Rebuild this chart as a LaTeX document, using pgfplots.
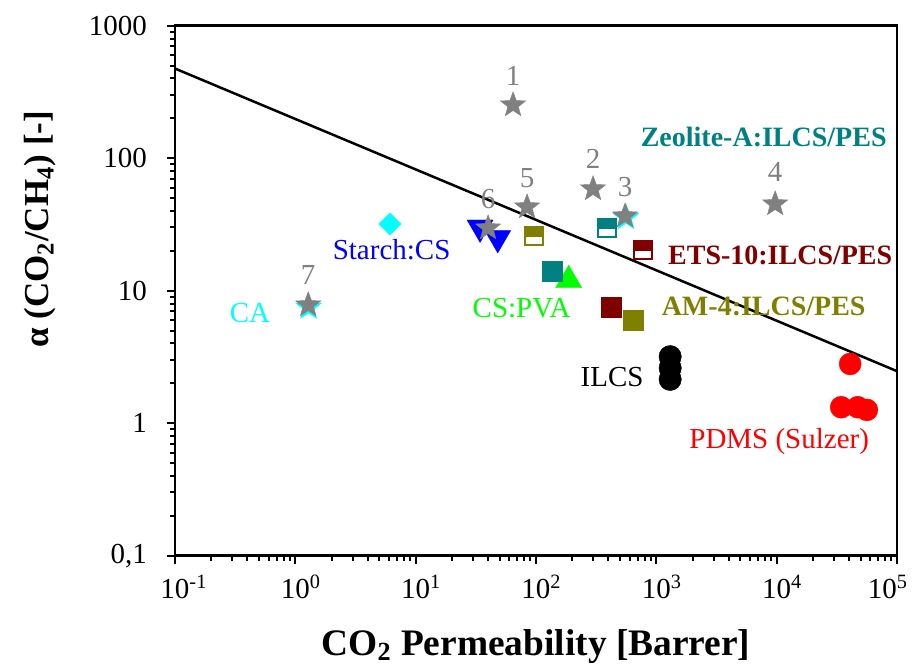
\documentclass[border=0pt]{standalone}
\usepackage{fontspec}
\setmainfont{Liberation Serif}
\usepackage{pgfplots}
\pgfplotsset{compat=1.18}

\definecolor{cteal}{RGB}{0,128,128}
\definecolor{cmaroon}{RGB}{128,0,0}
\definecolor{colive}{RGB}{128,128,0}
\definecolor{ccyan}{RGB}{0,255,255}
\definecolor{cblue}{RGB}{0,0,255}
\definecolor{cgreen}{RGB}{0,255,0}
\definecolor{cgray}{RGB}{128,128,128}
\definecolor{cred}{RGB}{255,0,0}

\pgfdeclareplotmark{fstar}{%
  \pgfpathmoveto{\pgfpointpolar{90}{\pgfplotmarksize}}%
  \pgfpathlineto{\pgfpointpolar{126}{0.42\pgfplotmarksize}}%
  \pgfpathlineto{\pgfpointpolar{162}{\pgfplotmarksize}}%
  \pgfpathlineto{\pgfpointpolar{198}{0.42\pgfplotmarksize}}%
  \pgfpathlineto{\pgfpointpolar{234}{\pgfplotmarksize}}%
  \pgfpathlineto{\pgfpointpolar{270}{0.42\pgfplotmarksize}}%
  \pgfpathlineto{\pgfpointpolar{306}{\pgfplotmarksize}}%
  \pgfpathlineto{\pgfpointpolar{342}{0.42\pgfplotmarksize}}%
  \pgfpathlineto{\pgfpointpolar{18}{\pgfplotmarksize}}%
  \pgfpathlineto{\pgfpointpolar{54}{0.42\pgfplotmarksize}}%
  \pgfpathclose
  \pgfusepathqfillstroke
}
\pgfdeclareplotmark{halfsq}{%
  \pgfpathrectangle{\pgfpoint{-\pgfplotmarksize}{-0.1\pgfplotmarksize}}{\pgfpoint{2\pgfplotmarksize}{1.1\pgfplotmarksize}}%
  \pgfusepathqfill
  \pgfpathrectangle{\pgfpoint{-\pgfplotmarksize}{-\pgfplotmarksize}}{\pgfpoint{2\pgfplotmarksize}{2\pgfplotmarksize}}%
  \pgfusepathqstroke
}

\newcommand{\lblfont}{\fontsize{14.5}{16}\selectfont}
\newcommand{\bldfont}{\bfseries\fontsize{14}{16}\selectfont}

\begin{document}
\begin{tikzpicture}
\useasboundingbox (-87.5pt,-56.15pt) rectangle (371pt,277.85pt);
\begin{axis}[
  at={(0,0)}, anchor=south west,
  scale only axis, width=361pt, height=265pt,
  xmode=log, ymode=log,
  xmin=0.1, xmax=1e5, ymin=0.1, ymax=1000,
  xtick={0.1,1,10,100,1000,10000,100000},
  xticklabels={10\rlap{\textsuperscript{-1}},10\rlap{\textsuperscript{0}},10\rlap{\textsuperscript{1}},10\rlap{\textsuperscript{2}},10\rlap{\textsuperscript{3}},10\rlap{\textsuperscript{4}},\llap{10}\rlap{\textsuperscript{5}}},
  minor xtick={0.2,0.3,0.4,0.5,0.6,0.7,0.8,0.9,2,3,4,5,6,7,8,9,20,30,40,50,60,70,80,90,200,300,400,500,600,700,800,900,2000,3000,4000,5000,6000,7000,8000,9000,20000,30000,40000,50000,60000,70000,80000,90000},
  ytick={0.1,1,10,100,1000},
  yticklabels={{0,1},1,10,100,1000},
  minor ytick={0.2,0.3,0.4,0.5,0.6,0.7,0.8,0.9,2,3,4,5,6,7,8,9,20,30,40,50,60,70,80,90,200,300,400,500,600,700,800,900},
  tick pos=left,
  tick align=outside,
  major tick length=4pt, minor tick length=2.5pt,
  every tick/.style={black, line width=1pt},
  axis line style={line width=1.2pt},
  tick label style={font=\lblfont},
  xticklabel style={yshift=-2pt},
  yticklabel style={xshift=-6.5pt},
  xlabel={CO\textsubscript{2} Permeability [Barrer]},
  ylabel={α (CO\textsubscript{2}/CH\textsubscript{4}) [-]},
  label style={font=\bfseries\fontsize{17.5}{20}\selectfont},
  xlabel style={at={(axis description cs:0.5,-0.188)}, anchor=base, font=\bfseries\fontsize{18.7}{20}\selectfont},
  ylabel style={at={(axis description cs:-0.187,0.616)}, anchor=center, rotate=0},
  clip=false,
]
% Robeson upper bound
\addplot[black, line width=1.25pt] coordinates {(0.1,475) (100000,2.47)};

% cyan markers
\addplot[only marks, mark=square*, mark size=3.9pt, mark options={rotate=45, fill=ccyan, draw=ccyan, line width=0.2pt}] coordinates {(6.12,31.9)};
\addplot[only marks, mark=fstar, mark size=6.8pt, mark options={fill=ccyan, draw=ccyan, line width=0.2pt}] coordinates {(560,35.6) (1.29,7.5)};

% blue down triangles
\addplot[only marks, mark=triangle*, mark size=7.5pt, mark options={rotate=180, fill=cblue, draw=cblue, line width=0.2pt}] coordinates {(34.3,30.0) (48.1,25.0)};

% green triangle
\addplot[only marks, mark=triangle*, mark size=7.5pt, mark options={fill=cgreen, draw=cgreen, line width=0.2pt}] coordinates {(187,12.0)};

% filled squares
\addplot[only marks, mark=square*, mark size=5pt, mark options={fill=cteal, draw=cteal, line width=0.2pt}] coordinates {(136,14.1)};
\addplot[only marks, mark=square*, mark size=5pt, mark options={fill=cmaroon, draw=cmaroon, line width=0.2pt}] coordinates {(419,7.5)};
\addplot[only marks, mark=square*, mark size=5pt, mark options={fill=colive, draw=colive, line width=0.2pt}] coordinates {(645,6.0)};

% half-filled squares
\addplot[only marks, mark=halfsq, mark size=4.6pt, mark options={fill=cteal, draw=cteal, line width=0.9pt}] coordinates {(388,29.9)};
\addplot[only marks, mark=halfsq, mark size=4.6pt, mark options={fill=cmaroon, draw=cmaroon, line width=0.9pt}] coordinates {(777,20.3)};
\addplot[only marks, mark=halfsq, mark size=4.6pt, mark options={fill=colive, draw=colive, line width=0.9pt}] coordinates {(96.4,25.9)};

% ILCS
\addplot[only marks, mark=*, mark size=5.6pt, mark options={fill=black, draw=black, line width=0.2pt}] coordinates {(1303,3.18) (1303,2.61) (1303,2.14)};

% PDMS
\addplot[only marks, mark=*, mark size=5.5pt, mark options={fill=cred, draw=cred, line width=0.2pt}] coordinates {(40800,2.80) (34400,1.32) (47300,1.32) (56200,1.26)};

% gray stars
\addplot[only marks, mark=fstar, mark size=6.6pt, mark options={fill=cgray, draw=cgray, line width=0.2pt}] coordinates {(64.5,252) (298,58.6) (550,36.6) (9720,45.1) (84.3,42.8) (40,29.7) (1.28,7.8)};

% star numbers
\begin{scope}[every node/.style={anchor=base, text=cgray, font=\lblfont, yshift=10pt}]
\node at (axis cs:64.5,252) {1};
\node at (axis cs:298,58.6) {2};
\node at (axis cs:550,36.6) {3};
\node[yshift=1.3pt] at (axis cs:9720,45.1) {4};
\node at (axis cs:84.3,42.8) {5};
\node at (axis cs:40,29.7) {6};
\node at (axis cs:1.28,7.8) {7};
\end{scope}

% labels
\node[anchor=base, text=cteal, font=\bldfont] at (axis cs:7800,123.6) {Zeolite-A:ILCS/PES};
\node[anchor=base, text=cmaroon, font=\bldfont] at (axis cs:10700,15.9) {ETS-10:ILCS/PES};
\node[anchor=base, text=colive, font=\bldfont] at (axis cs:7800,6.55) {AM-4:ILCS/PES};
\node[anchor=base, text=cgreen, font=\lblfont] at (axis cs:75.9,6.25) {CS:PVA};
\node[anchor=base, text=cblue, font=\lblfont] at (axis cs:6.31,17.3) {Starch:CS};
\node[anchor=base, text=ccyan, font=\lblfont] at (axis cs:0.42,5.73) {CA};
\node[anchor=base, text=black, font=\lblfont] at (axis cs:429,1.886) {ILCS};
\node[anchor=base, text=cred, font=\lblfont] at (axis cs:10500,0.647) {PDMS (Sulzer)};
\end{axis}
\end{tikzpicture}
\end{document}
